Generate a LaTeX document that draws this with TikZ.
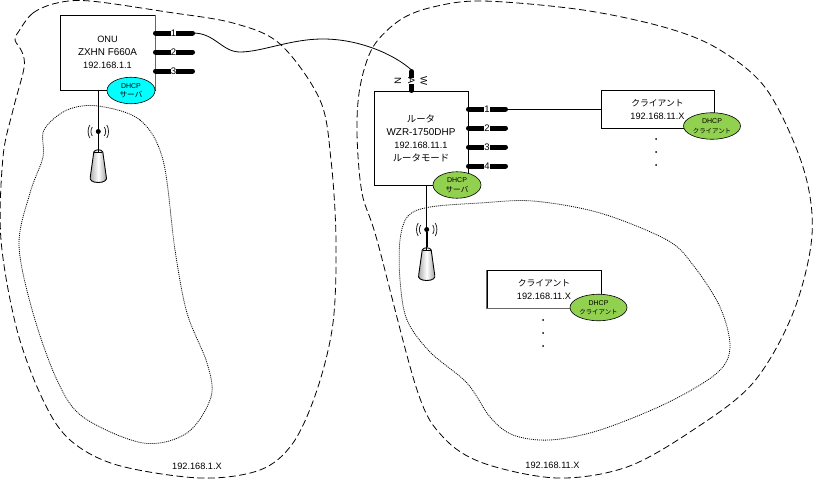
\documentclass[tikz,border=0pt]{standalone}
\usepackage{fontspec}
\setmainfont{Liberation Sans}
\newfontfamily\jp{Noto Sans CJK JP}
\usetikzlibrary{shapes.geometric}
\definecolor{dhcpcyan}{HTML}{00FFFF}
\definecolor{dhcpgreen}{HTML}{92D050}
\newcommand{\caps}[1]{{\fontsize{9.9}{13}\selectfont #1}}
\newcommand{\jpbig}[1]{{\jp\fontsize{9.4}{13}\selectfont #1}}
\newcommand{\jpsmall}[1]{{\jp\fontsize{6.4}{9.5}\selectfont #1}}
\newcommand{\jpserver}[1]{{\jp\fontsize{7.6}{9.5}\selectfont #1}}
\tikzset{
  x=1pt,y=-1pt,
  zone/.style={draw=black,line width=.8pt,dash pattern=on 7pt off 3.5pt},
  wifizone/.style={draw=black,line width=.8pt,dash pattern=on 1pt off 1pt},
  devbox/.style={draw=black,fill=white,line width=.8pt,minimum width=#1,align=center,inner sep=0pt,font=\fontsize{9.2}{13}\selectfont},
  dhcp/.style={ellipse,draw=black,line width=.6pt,fill=#1,minimum height=26.5pt,inner sep=0pt,align=center,font=\fontsize{7}{9.5}\selectfont},
  portline/.style={line width=5pt,line cap=round,black},
  portnum/.style={fill=white,inner sep=.2pt,font=\fontsize{9.5}{9.5}\selectfont},
  link/.style={black,line width=.8pt},
  plain/.style={inner sep=0pt,font=\fontsize{9.2}{11}\selectfont},
  wave/.style={black!85,line width=.8pt},
  antenna/.style={draw=black,line width=.9pt,left color=black!35,right color=black!40,middle color=white},
  greyedge/.style={draw=black!60,line width=1.2pt},
  pt/.style={circle,fill=black,inner sep=0pt,minimum size=2pt},
}
\newcommand{\wifi}[3]{%
  \node[circle,fill=black,inner sep=0pt,minimum size=5pt] (#3) at (#1,#2) {};
  \draw[wave] (#1-6,#2-4.5) .. controls (#1-7.8,#2-2) and (#1-7.8,#2+2) .. (#1-6,#2+4.5);
  \draw[wave] (#1+6,#2-4.5) .. controls (#1+7.8,#2-2) and (#1+7.8,#2+2) .. (#1+6,#2+4.5);
  \draw[wave] (#1-8.5,#2-6.5) .. controls (#1-10.8,#2-3) and (#1-10.8,#2+3) .. (#1-8.5,#2+6.5);
  \draw[wave] (#1+8.5,#2-6.5) .. controls (#1+10.8,#2-3) and (#1+10.8,#2+3) .. (#1+8.5,#2+6.5);
}
\newcommand{\antennabody}[2]{%
  \draw[antenna] (#1-4.5,#2+3) .. controls (#1-3.5,#2) and (#1+3.5,#2) .. (#1+4.5,#2+3)
     -- (#1+8,#2+28) .. controls (#1+9,#2+31) and (#1+6,#2+33.5) .. (#1,#2+33.5)
     .. controls (#1-6,#2+33.5) and (#1-9,#2+31) .. (#1-8,#2+28) -- cycle;
  \draw[black,line width=.5pt] (#1-4,#2+3.5) -- (#1+4,#2+3.5);
  \draw[black,line width=.5pt] (#1,#2) -- (#1,#2+3.5);
}
\begin{document}
\begin{tikzpicture}
\useasboundingbox (0,0) rectangle (813,479);
% zones
\draw[zone] plot[smooth cycle,tension=.55] coordinates {(19,31) (33,13) (57,3) (90,1) (167,12) (233,23) (280,44) (320,100) (331,160) (336,240) (333,323) (317,390) (293,443) (260,470) (200,478) (117,465) (70,440) (43,400) (17,330) (1,240) (3,157) (13,110) (24,68) (22,52) (15,40)};
\draw[zone] plot[smooth cycle,tension=.55] coordinates {(400,20) (433,7) (483,1) (583,10) (667,28) (720,50) (767,90) (803,167) (812,235) (793,313) (753,383) (693,430) (627,467) (557,478) (483,463) (443,437) (417,390) (377,240) (362,193) (357,133) (360,87) (373,47)};
\draw[wifizone] plot[smooth cycle,tension=.55] coordinates {(98,106) (140,120) (163,160) (175,250) (187,313) (207,363) (211,397) (187,433) (143,443) (83,417) (57,380) (33,313) (19,245) (30,193) (43,157) (44,130) (67,110)};
\draw[wifizone] plot[smooth cycle,tension=.55] coordinates {(400,240) (408,216) (430,207) (480,203) (533,201) (600,213) (667,240) (693,265) (720,307) (730,347) (717,373) (667,403) (600,430) (550,440) (513,435) (490,417) (467,383) (430,352) (407,320) (400,280)};
% connectors under boxes
\coordinate (onup1) at (193,33);
\coordinate (wanend) at (411.5,70);
\coordinate (r1end) at (506,109);
\coordinate (onuant) at (98.3,150);
\coordinate (routerant) at (426.7,247);
\draw[link] (onup1) .. controls (215,33) and (222,52) .. (240,52) .. controls (262,52) and (290,39) .. (323,39) .. controls (360,39) and (395,55) .. (wanend);
% ONU
\node[devbox=95pt,minimum height=75pt] (onu) at (107.5,52.5) {ONU\\\caps{ZXHN F660A}\\192.168.1.1};
\draw[greyedge] (onu.north east) -- (onu.south east);
\draw[link] (onu.south -| onuant) -- (onuant);
\foreach \y/\n in {33/1,52/2,71/3}{
  \draw[portline] (155.5,\y) -- (192.5,\y);
  \node[portnum] (onuport\n) at (173.5,\y) {\n};
}
\node[dhcp=dhcpcyan,minimum width=48pt] (onudhcp) at (131,90.5) {DHCP\\\jpserver{サーバ}};
\wifi{98.3}{131.5}{onuwifi}
\draw[black,line width=1.6pt] (onuwifi) -- (onuant);
\antennabody{98.3}{149}
% router
\node[devbox=94pt,minimum height=94pt] (router) at (421,138) {\jpbig{ルータ}\\\caps{WZR-1750DHP}\\192.168.11.1\\\jpbig{ルータモード}};
\draw[link] (router.south -| routerant) -- (routerant);
\foreach \y/\n in {109/1,128/2,147/3,166/4}{
  \draw[portline] (468.5,\y) -- (505.5,\y);
  \node[portnum] (rport\n) at (487,\y) {\n};
}
\draw[portline] (411.5,71.5) -- (411.5,90.5);
\node[portnum,rotate=-90] (wanw) at (424,81) {W};
\node[portnum,rotate=-90] (wana) at (411.5,81) {A};
\node[portnum,rotate=-90] (wann) at (398,81) {N};
\node[dhcp=dhcpgreen,minimum width=48pt] (routerdhcp) at (457,185) {DHCP\\\jpserver{サーバ}};
\wifi{426.7}{229.5}{routerwifi}
\draw[black,line width=1.6pt] (routerwifi) -- (routerant);
\antennabody{426.7}{247}
% clients
\node[devbox=113pt,minimum height=38pt] (c1) at (657.5,109) {{\jp\fontsize{8.8}{13}\selectfont クライアント}\\192.168.11.X};
\draw[link] (r1end) -- (c1.west);
\node[dhcp=dhcpgreen,minimum width=57pt] (c1dhcp) at (712,126) {DHCP\\\jpsmall{クライアント}};
\node[pt] (c1a) at (656,139) {};
\node[pt] (c1b) at (656,152) {};
\node[pt] (c1c) at (656,165) {};
\node[devbox=114pt,minimum height=38pt] (c2) at (544,289) {{\jp\fontsize{8.8}{13}\selectfont クライアント}\\192.168.11.X};
\draw[greyedge] (c2.north west) -- (c2.south west) -- (c2.south east);
\node[dhcp=dhcpgreen,minimum width=57pt] (c2dhcp) at (598.5,307.5) {DHCP\\\jpsmall{クライアント}};
\node[pt] (c2a) at (543,320) {};
\node[pt] (c2b) at (543,333) {};
\node[pt] (c2c) at (543,346) {};
% zone labels
\node[plain] (z1) at (197,466) {192.168.1.X};
\node[plain] (z2) at (552.5,465) {192.168.11.X};
\end{tikzpicture}
\end{document}
